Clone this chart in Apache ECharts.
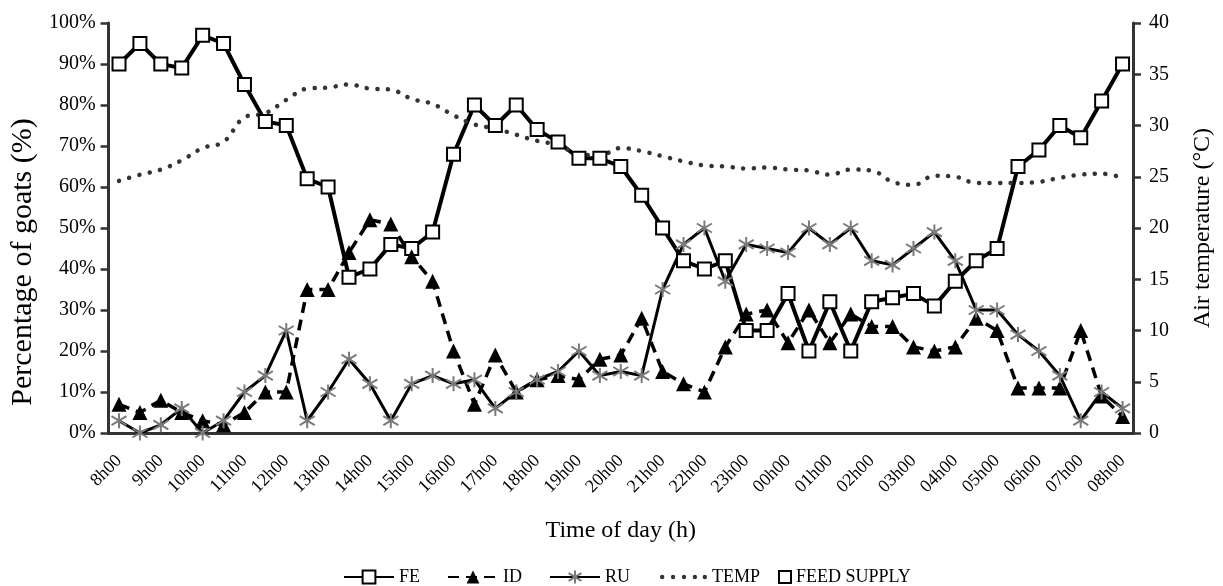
<!DOCTYPE html>
<html><head><meta charset="utf-8">
<script src="https://cdn.jsdelivr.net/npm/echarts@6/dist/echarts.min.js"></script>
<style>html,body{margin:0;padding:0;background:#fff}#c{width:1223px;height:586px}</style>
</head><body><div id="c"></div>
<script>
const categories = ['8h00','8h30','9h00','9h30','10h00','10h30','11h00','11h30','12h00','12h30','13h00','13h30','14h00','14h30','15h00','15h30','16h00','16h30','17h00','17h30','18h00','18h30','19h00','19h30','20h00','20h30','21h00','21h30','22h00','22h30','23h00','23h30','00h00','00h30','01h00','01h30','02h00','02h30','03h00','03h30','04h00','04h30','05h00','05h30','06h00','06h30','07h00','07h30','08h00'];
const FE = [90,95,90,89,97,95,85,76,75,62,60,38,40,46,45,49,68,80,75,80,74,71,67,67,65,58,50,42,40,42,25,25,34,20,32,20,32,33,34,31,37,42,45,65,69,75,72,81,90];
const ID = [7,5,8,5,3,2,5,10,10,35,35,44,52,51,43,37,20,7,19,10,13,14,13,18,19,28,15,12,10,21,29,30,22,30,22,29,26,26,21,20,21,28,25,11,11,11,25,9,4];
const RU = [3,0,2,6,0,3,10,14,25,3,10,18,12,3,12,14,12,13,6,10,13,15,20,14,15,14,35,46,50,37,46,45,44,50,46,50,42,41,45,49,42,30,30,24,20,14,3,10,6];
const TEMP = [24.6,25.2,25.7,26.6,27.8,28.4,30.8,31.2,32.5,33.6,33.7,34.0,33.6,33.5,32.6,32.1,31.0,30.1,29.7,29.1,28.5,28.1,27.2,27.1,27.8,27.5,27.0,26.5,26.1,26.0,25.8,25.9,25.7,25.6,25.2,25.7,25.6,24.5,24.2,25.1,25.0,24.4,24.4,24.4,24.5,24.9,25.2,25.3,24.9];
const FEED_SUPPLY = [];
const legendNames = ['FE','ID','RU','TEMP','FEED SUPPLY'];

const FONT = 'Liberation Serif';
const AX = '#333';
const star = 'path://M10,0L10,20M0,4L20,16M0,16L20,4';
const dots = 'path://M0,0M50,16M3,8a2.2,2.2 0 1,0 4.4,0a2.2,2.2 0 1,0 -4.4,0ZM14,8a2.2,2.2 0 1,0 4.4,0a2.2,2.2 0 1,0 -4.4,0ZM25,8a2.2,2.2 0 1,0 4.4,0a2.2,2.2 0 1,0 -4.4,0ZM36,8a2.2,2.2 0 1,0 4.4,0a2.2,2.2 0 1,0 -4.4,0ZM46,8a2.2,2.2 0 1,0 4.4,0a2.2,2.2 0 1,0 -4.4,0Z';

const chart = echarts.init(document.getElementById('c'), null, {renderer:'canvas'});
chart.setOption({
  animation:false,
  backgroundColor:'#fff',
  textStyle:{fontFamily:FONT,color:'#000'},
  grid:{left:106,right:81,top:23,bottom:153,containLabel:false},
  legend:[{
    top:563,left:338,itemWidth:50,itemHeight:16,itemGap:27,
    textStyle:{fontFamily:FONT,fontSize:18,color:'#000'},
    data:[legendNames[0],legendNames[1],legendNames[2],{name:legendNames[3],icon:dots}]
  },{
    top:563,left:773,itemWidth:12,itemHeight:12,itemGap:10,
    textStyle:{fontFamily:FONT,fontSize:18,color:'#000'},
    data:[{name:legendNames[4],icon:'rect'}]
  }],
  xAxis:{
    type:'category',data:categories,boundaryGap:true,
    axisLine:{show:true,lineStyle:{color:AX,width:3}},
    axisTick:{show:false},
    splitLine:{show:false},
    axisLabel:{interval:1,rotate:45,fontFamily:FONT,fontSize:18,color:'#000',margin:25},
    name:'Time of day (h)',nameLocation:'middle',nameGap:86,
    nameTextStyle:{fontFamily:FONT,fontSize:24,color:'#000'}
  },
  yAxis:[{
    type:'value',min:0,max:100,interval:10,position:'left',
    axisLine:{show:true,lineStyle:{color:AX,width:3}},
    axisTick:{show:true,inside:false,length:8,lineStyle:{color:AX,width:2.5}},
    splitLine:{show:false},
    axisLabel:{formatter:'{value}%',fontFamily:FONT,fontSize:20,color:'#000',margin:13},
    name:'Percentage of goats (%)',nameLocation:'middle',nameGap:63,nameRotate:90,
    nameTextStyle:{fontFamily:FONT,fontSize:30,color:'#000',padding:[0,68,0,0]}
  },{
    type:'value',min:0,max:40,interval:5,position:'right',
    axisLine:{show:true,lineStyle:{color:AX,width:3}},
    axisTick:{show:true,inside:false,length:8,lineStyle:{color:AX,width:2.5}},
    splitLine:{show:false},
    axisLabel:{fontFamily:FONT,fontSize:20,color:'#000',margin:16},
    name:'Air temperature (°C)',nameLocation:'middle',nameGap:58,nameRotate:90,
    nameTextStyle:{fontFamily:FONT,fontSize:24,color:'#000'}
  }],
  series:[
    {name:'FE',type:'line',data:FE,yAxisIndex:0,symbol:'rect',symbolSize:13,showAllSymbol:true,
     lineStyle:{color:'#000',width:4},itemStyle:{color:'#fff',borderColor:'#000',borderWidth:2}},
    {name:'ID',type:'line',data:ID,yAxisIndex:0,symbol:'triangle',symbolSize:15,showAllSymbol:true,
     lineStyle:{color:'#000',width:3.5,type:[11,7]},itemStyle:{color:'#000',borderColor:'#000',borderWidth:0}},
    {name:'RU',type:'line',data:RU,yAxisIndex:0,symbol:star,symbolSize:15,symbolKeepAspect:true,showAllSymbol:true,
     lineStyle:{color:'#000',width:3},itemStyle:{color:'rgba(0,0,0,0)',borderColor:'#7a7a7a',borderWidth:2}},
    {name:'TEMP',type:'line',data:TEMP,yAxisIndex:1,symbol:'none',smooth:0.4,
     lineStyle:{color:'#333',width:4.5,type:[0.1,10.5],cap:'round'},itemStyle:{color:'#333'}},
    {name:'FEED SUPPLY',type:'line',data:FEED_SUPPLY,yAxisIndex:0,symbol:'rect',
     lineStyle:{width:0},itemStyle:{color:'#fff',borderColor:'#000',borderWidth:2}}
  ]
});
</script></body></html>
